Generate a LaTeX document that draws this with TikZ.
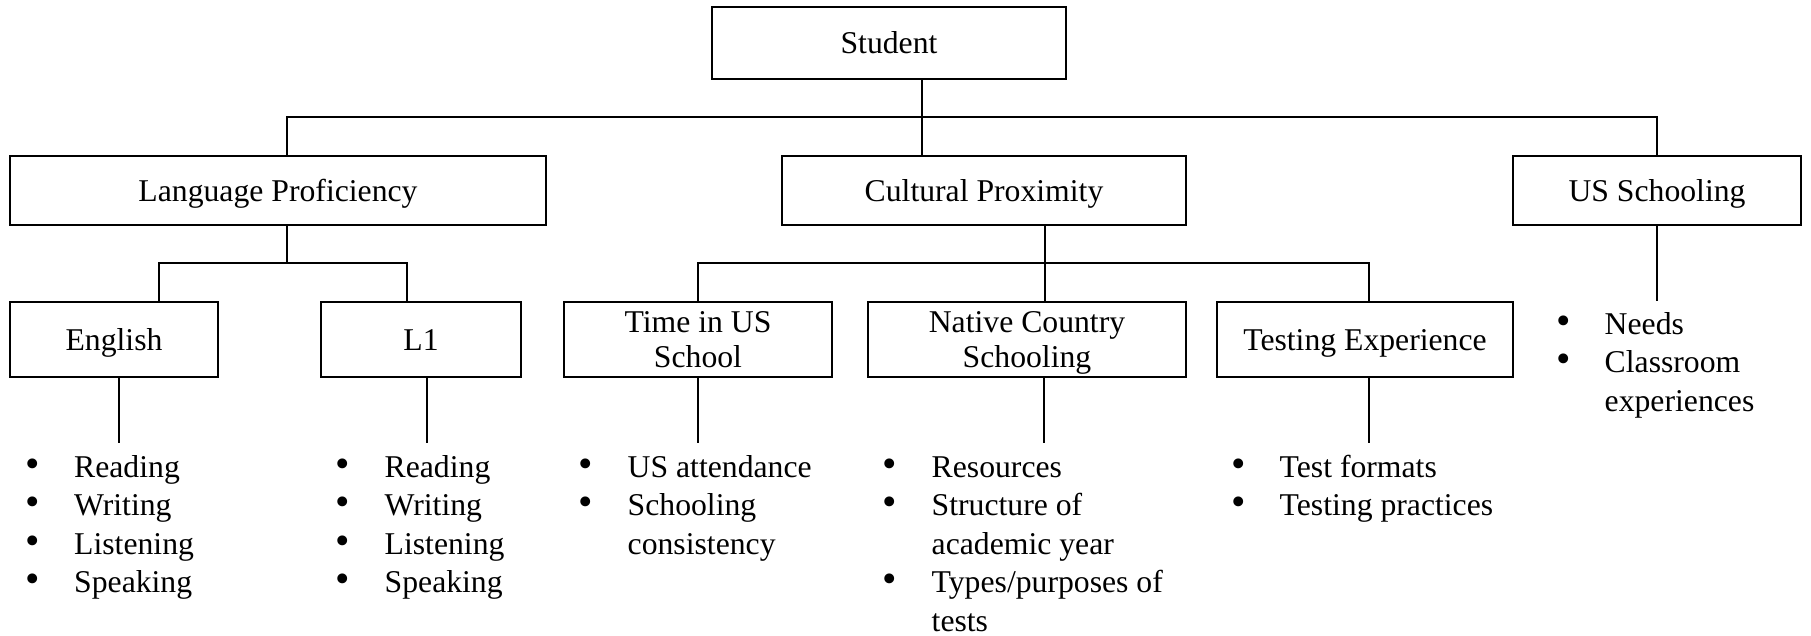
\documentclass[tikz,border=0pt]{standalone}
\usepackage{fontspec}
\setmainfont{Liberation Serif}
\newcommand{\bul}{\makebox[0pt]{\scalebox{1.3}{\textbullet}}\hspace*{41.5pt}}
\newcommand{\cont}{\hspace*{41.5pt}}
\begin{document}
\begin{tikzpicture}[x=1pt,y=-1pt,
  box/.style={draw, line width=2.2pt, inner sep=0pt, align=center,
    font=\fontsize{31.7}{35}\selectfont},
  onebox/.style={box, text height=21.5pt, text depth=0pt},
  conn/.style={line width=1.8pt},
  blist/.style={anchor=base west, inner sep=0pt,
    font=\fontsize{31.7}{38.6}\selectfont}]
\useasboundingbox (0,0) rectangle (1811,635);
% boxes
\node[onebox, minimum width=354, minimum height=72] (student) at (889,43) {Student};
\node[onebox, minimum width=536, minimum height=69] (lp) at (278,190.5) {Language Proficiency};
\node[onebox, minimum width=404, minimum height=69] (cp) at (984,190.5) {Cultural Proximity};
\node[onebox, minimum width=288, minimum height=69] (uss) at (1657,190.5) {US Schooling};
\node[onebox, minimum width=208, minimum height=75] (eng) at (114,339.5) {English};
\node[onebox, minimum width=200, minimum height=75] (l1) at (421,339.5) {L1};
\node[box, minimum width=268, minimum height=75] (time) at (698,339.5) {Time in US\\School};
\node[box, minimum width=318, minimum height=75, text depth=0pt] (ncs) at (1027,339.5) {Native Country\\Schooling};
\node[onebox, minimum width=296, minimum height=75] (te) at (1365,339.5) {Testing Experience};
% junction coordinates
\coordinate (sx) at (922,117);
\coordinate (busL) at (287,117);
\coordinate (busR) at (1657,117);
\coordinate (lpj) at (287,263);
\coordinate (lpL) at (159,263);
\coordinate (lpR) at (407,263);
\coordinate (cpj) at (1045,263);
\coordinate (cpL) at (698,263);
\coordinate (cpR) at (1369,263);
\coordinate (engE) at (119,443);
\coordinate (l1E) at (427,443);
\coordinate (timeE) at (698,443);
\coordinate (ncsE) at (1044,443);
\coordinate (teE) at (1369,443);
\coordinate (ussE) at (1657,301);
% connectors
\draw[conn] (student.south -| sx) -- (cp.north -| sx);
\draw[conn] (lp.north -| busL) -- (busL) -- (busR) -- (uss.north);
\draw[conn] (lp.south -| lpj) -- (lpj);
\draw[conn] (eng.north -| lpL) -- (lpL) -- (lpR) -- (l1.north -| lpR);
\draw[conn] (cp.south -| cpj) -- (ncs.north -| cpj);
\draw[conn] (time.north -| cpL) -- (cpL) -- (cpR) -- (te.north -| cpR);
\draw[conn] (eng.south -| engE) -- (engE);
\draw[conn] (l1.south -| l1E) -- (l1E);
\draw[conn] (time.south -| timeE) -- (timeE);
\draw[conn] (ncs.south -| ncsE) -- (ncsE);
\draw[conn] (te.south -| teE) -- (teE);
\draw[conn] (uss.south -| ussE) -- (ussE);
% bullet lists
\node[blist] (engL) at (32.5,477) {\begin{tabular}[t]{@{}l@{}}
\bul Reading\\ \bul Writing\\ \bul Listening\\ \bul Speaking\end{tabular}};
\node[blist] (l1L) at (343,477) {\begin{tabular}[t]{@{}l@{}}
\bul Reading\\ \bul Writing\\ \bul Listening\\ \bul Speaking\end{tabular}};
\node[blist] (timeL) at (586,477) {\begin{tabular}[t]{@{}l@{}}
\bul US attendance\\ \bul Schooling\\ \cont consistency\end{tabular}};
\node[blist] (ncsL) at (890,477) {\begin{tabular}[t]{@{}l@{}}
\bul Resources\\ \bul Structure of\\ \cont academic year\\ \bul Types/purposes of\\ \cont tests\end{tabular}};
\node[blist] (teL) at (1238,477) {\begin{tabular}[t]{@{}l@{}}
\bul Test formats\\ \bul Testing practices\end{tabular}};
\node[blist] (ussL) at (1563,334) {\begin{tabular}[t]{@{}l@{}}
\bul Needs\\ \bul Classroom\\ \cont experiences\end{tabular}};
\end{tikzpicture}
\end{document}
